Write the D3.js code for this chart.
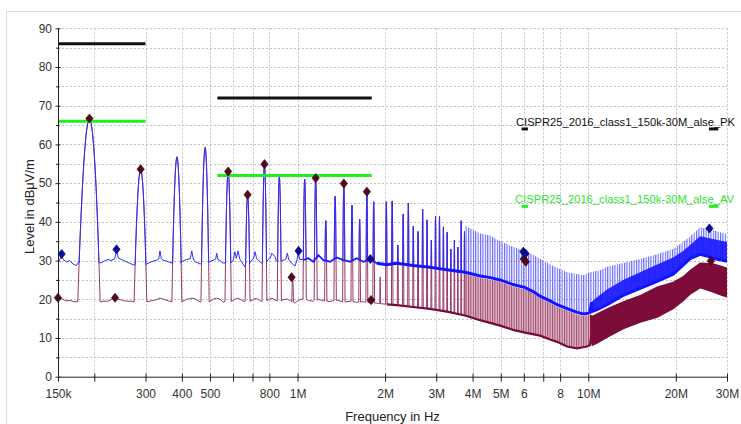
<!DOCTYPE html>
<html><head><meta charset="utf-8">
<script src="https://cdn.jsdelivr.net/npm/d3@7"></script>
<style>html,body{margin:0;padding:0;background:#fff;} svg{display:block;font-family:"Liberation Sans",Arial,sans-serif;}</style>
</head><body><svg id="c" width="741" height="424"></svg>
<script>
// ---------------- DATA ----------------
const xTickMHz = [0.15,0.2,0.3,0.4,0.5,0.6,0.7,0.8,1,2,3,4,5,6,7,8,10,20,30];
const xTickLabels = ["150k","","300","400","500","","","800","1M","2M","3M","4M","5M","6","","8","10M","20M","30M"];
const yMajor = [0,10,20,30,40,50,60,70,80,90];
const yMinor = [5,15,25,35,45,55,65,75,85];

// Limit lines: [startMHz, endMHz, dBµV/m]
const limitPK = [[0.15,0.3,86],[0.53,1.8,72],[5.9,6.2,64],[26,28,64]];
const limitAV = [[0.15,0.3,66],[0.53,1.8,52],[5.9,6.2,44],[26,28,44]];
const limitNames = ["CISPR25_2016_class1_150k-30M_alse_PK","CISPR25_2016_class1_150k-30M_alse_AV"];

// Individually resolved harmonic peaks: [MHz, peak dB]
const harmonics = [
 [0.1924,66.7],[0.2886,53.6],[0.3848,56.8],[0.4810,59.2],[0.5772,53.0],[0.6734,47.0],
 [0.7696,54.9],[0.8658,51.8],[0.9620,25.7],[1.0582,51.0],[1.1544,51.3],[1.2506,40.3],
 [1.3468,46.6],[1.4430,49.9],[1.5392,44.3],[1.6354,40.7],[1.7316,47.8],[1.8278,45.2],
 [1.9240,25.8],[2.0202,45.2],[2.1164,45.4],[2.2126,34.0],[2.3088,42.0],[2.4050,44.8],
 [2.5012,38.9],[2.5974,37.5],[2.6936,43.3],[2.7898,40.5],[2.8860,35.3],[2.9822,41.4],
 [3.0784,41.4],[3.1746,38.7],[3.2708,37.3],[3.3670,33.0],[3.4632,35.3],[3.5594,33.5],
 [3.6556,40.3],[3.7518,37.5]
];

// Peak-detector noise floor: [MHz, dB]
const pkFloor = [
 [0.1500,30.1],[0.1525,30.4],[0.1544,31.3],[0.1565,30.2],[0.1605,29.7],[0.1646,30.0],[0.1690,29.1],[0.1736,28.7],[0.1771,29.7],
 [0.2086,29.3],[0.2140,29.7],[0.2229,30.3],[0.2287,30.0],[0.2350,30.4],[0.2384,32.7],[0.2420,30.6],[0.2476,30.3],[0.2577,29.7],[0.2682,29.1],[0.2754,28.8],
 [0.3021,29.1],[0.3144,29.7],[0.3273,30.1],[0.3330,30.4],[0.3363,32.5],[0.3400,30.5],[0.3455,30.1],[0.3596,29.7],[0.3722,28.9],
 [0.3994,29.7],[0.4157,30.3],[0.4280,30.5],[0.4327,32.5],[0.4380,30.4],[0.4443,29.7],[0.4625,29.1],
 [0.4976,29.7],[0.5134,30.1],[0.5230,30.4],[0.5272,31.9],[0.5320,30.3],[0.5408,30.0],[0.5551,29.3],
 [0.5927,29.5],[0.6020,30.2],[0.6083,32.3],[0.6160,30.6],[0.6244,32.5],[0.6330,30.4],[0.6412,29.7],[0.6583,28.4],
 [0.6864,29.7],[0.7050,30.4],[0.7142,32.3],[0.7230,30.5],[0.7331,30.1],[0.7530,29.3],
 [0.7934,30.3],[0.8060,30.6],[0.8151,31.9],[0.8367,31.0],[0.8450,29.9],[0.8588,29.7],
 [0.8936,30.1],[0.9120,30.4],[0.9224,31.9],[0.9330,30.2],[0.9551,29.3],[0.9803,28.6],[0.9960,30.2],[1.0062,32.4],[1.0160,30.3],
 [1.0470,30.1],[1.0891,30.6],[1.1331,29.7],[1.1790,31.4],[1.2267,30.1],[1.2937,29.7],[1.3640,30.8],[1.4373,30.1],
 [1.5155,29.7],[1.5976,30.6],[1.6840,29.7],[1.7757,30.3],[1.8728,29.3],[2.0265,28.9],[2.1942,29.3],[2.496,28.7],
 [2.856,28.3],[3.267,27.6],[3.768,27.0],[4.245,26.0],[4.594,25.6],[4.972,25.0],[5.512,23.8],[6.063,23.0],[6.458,22.0],
 [6.826,20.8],[7.390,19.6],[7.810,18.6],[8.452,17.6],[8.865,17.0],[9.152,16.6],[9.595,16.2],[9.905,16.3],[10.14,16.6],
 [10.25,19.2],[10.36,16.9],[10.72,17.3],[11.60,18.6],[13.18,21.0],[15.07,22.8],[17.25,24.6],[19.58,26.5],[21.19,28.8],
 [22.40,30.5],[24.24,31.6],[25.62,31.2],[26.87,30.6],[28.41,30.2],[30.0,29.8]
];

// Average-detector noise floor: [MHz, dB]
const avFloor = [
 [0.150,20.4],[0.155,20.1],[0.160,19.6],[0.165,19.7],[0.170,19.4],[0.176,19.3],
 [0.209,19.4],[0.215,19.5],[0.222,19.5],[0.229,19.9],[0.236,20.4],[0.243,20.0],[0.250,19.7],[0.258,19.5],[0.268,19.5],[0.276,19.3],
 [0.302,19.4],[0.315,19.6],[0.327,19.9],[0.336,20.3],[0.346,20.0],[0.360,19.6],[0.372,19.3],
 [0.400,19.4],[0.416,20.0],[0.433,20.3],[0.444,20.1],[0.463,19.3],
 [0.498,19.4],[0.513,20.0],[0.527,20.3],[0.541,20.0],[0.555,19.3],
 [0.593,19.5],[0.608,20.0],[0.624,20.3],[0.641,19.8],[0.658,19.4],
 [0.686,19.5],[0.714,20.2],[0.733,20.0],[0.753,19.4],[0.793,19.9],[0.815,20.3],[0.837,19.8],[0.859,19.5],
 [0.894,19.9],[0.922,20.1],[0.955,19.4],[0.980,19.0],[1.006,19.8],[1.047,20.2],[1.089,19.7],[1.133,19.5],[1.179,20.0],
 [1.227,19.6],[1.294,19.4],[1.364,19.8],[1.437,19.3],[1.516,19.5],[1.598,19.2],[1.684,19.4],[1.776,19.1],[1.873,19.0],
 [2.027,18.7],[2.194,18.5],[2.496,18.0],[2.856,17.5],[3.267,16.8],[3.768,15.8],[4.245,14.6],[4.972,13.2],[5.512,12.1],
 [6.063,11.4],[6.826,10.6],[7.390,9.6],[7.810,9.0],[8.452,7.8],[9.152,7.3],[9.595,7.6],[9.905,7.8],[10.14,8.2],
 [10.25,10.8],[10.36,8.3],[10.72,8.8],[11.60,10.3],[13.18,12.5],[15.07,14.2],[17.25,15.5],[19.58,17.7],[21.19,19.8],
 [22.40,21.5],[24.24,23.1],[26.87,22.0],[28.41,21.3],[30.0,20.7]
];

// Dense harmonic region (unresolved): upper envelopes [MHz, dB]
const pkBandTop = [
 [3.768,39.0],[4.245,37.0],[4.594,36.5],[4.972,35.0],[5.512,33.6],[6.063,32.4],[6.458,31.5],[6.826,30.5],[7.390,29.0],
 [8.452,27.0],[9.595,26.2],[10.14,27.0],[10.98,27.5],[11.60,28.4],[13.18,29.4],[15.07,30.4],[17.25,31.6],[19.58,33.0],
 [21.19,34.8],[22.40,36.2],[24.24,38.6],[26.87,37.8],[30.0,36.8]
];
const pkDenseTop = [
 [10.14,19.0],[10.72,20.5],[11.60,22.5],[13.18,25.0],[15.07,27.0],[17.25,29.0],[19.58,30.8],[21.19,32.5],
 [22.40,34.0],[24.24,36.3],[26.87,35.6],[30.0,34.8]
];
const avBandTop = [
 [3.768,26.5],[4.245,25.5],[4.594,25.1],[4.972,24.5],[5.512,23.3],[6.063,22.5],[6.458,21.5],[6.826,20.3],[7.390,19.1],
 [7.810,18.1],[8.452,17.1],[8.865,16.5],[9.152,16.1],[9.595,15.7],[9.905,15.8],[10.14,16.1],
 [10.36,15.8],[10.72,16.4],[11.60,17.7],[13.18,19.5],[15.07,21.1],[17.25,23.3],[19.58,24.5],[21.19,26.0],
 [22.40,27.6],[24.24,29.5],[26.87,29.3],[28.41,28.8],[30.0,28.2]
];

// Markers: [MHz, dB]
const avMarkers = [[0.150,20.4],[0.1924,66.7],[0.2357,20.4],[0.2886,53.6],[0.5772,53.0],[0.6734,47.0],[0.7696,54.9],
 [0.954,25.7],[1.1544,51.3],[1.443,49.9],[1.7316,47.8],[1.79,19.8],[6.0,30.4],[6.1,29.7],[26.4,29.9]];
const pkMarkers = [[0.1544,31.7],[0.2384,32.9],[1.008,32.5],[1.78,30.4],[5.98,32.3],[6.08,31.8],[26.1,38.3]];

// ---------------- DRAWING ----------------
const svg = d3.select("#c");
const X0 = 58, X1 = 727, Y0 = 376.7, Y1 = 28.3;
const x = d3.scaleLog().domain([0.15, 30]).range([X0, X1]);
const y = d3.scaleLinear().domain([0, 90]).range([Y0, Y1]);
const line = d3.line().x(d => x(d[0])).y(d => y(d[1]));
const K = 163000; // receiver filter curvature, dB per MHz^2 (9 kHz RBW shape)

const defs = svg.append("defs");
defs.append("clipPath").attr("id", "plot").append("rect")
  .attr("x", X0).attr("y", Y1 - 2).attr("width", X1 - X0).attr("height", Y0 - Y1 + 2);
const ph = defs.append("pattern").attr("id", "pkHatch").attr("patternUnits", "userSpaceOnUse").attr("width", 2.4).attr("height", 20);
ph.append("rect").attr("width", 1.1).attr("height", 20).attr("fill", "#3030ff").attr("fill-opacity", 0.75);
const ah = defs.append("pattern").attr("id", "avHatch").attr("patternUnits", "userSpaceOnUse").attr("width", 2.4).attr("height", 20);
ah.append("rect").attr("width", 2.4).attr("height", 20).attr("fill", "#dcb6c6");
ah.append("rect").attr("width", 1.0).attr("height", 20).attr("fill", "#86204c").attr("fill-opacity", 0.7);

// frame
svg.append("rect").attr("x", 6.5).attr("y", 11.5).attr("width", 760).attr("height", 430)
  .attr("fill", "#fff").attr("stroke", "#dcdcdc");

// grid
const grid = svg.append("g").attr("stroke", "#c2c2c2").attr("stroke-dasharray", "2,2").attr("stroke-width", 1);
xTickMHz.filter(d => d > 0.15).forEach(d => {
  const px = Math.round(x(d)) + 0.5;
  grid.append("line").attr("x1", px).attr("x2", px).attr("y1", Y1).attr("y2", Y0);
});
yMajor.concat(yMinor).filter(d => d > 0).forEach(d => {
  const py = Math.round(y(d)) + 0.5;
  grid.append("line").attr("x1", X0).attr("x2", X1).attr("y1", py).attr("y2", py);
});

function floorAt(fl, f) {
  const i = d3.bisector(d => d[0]).left(fl, f);
  if (i <= 0) return fl[0][1];
  if (i >= fl.length) return fl[fl.length - 1][1];
  const a = fl[i - 1], b = fl[i];
  const t = (Math.log(f) - Math.log(a[0])) / (Math.log(b[0]) - Math.log(a[0]));
  return a[1] + t * (b[1] - a[1]);
}
function buildTrace(fl, harm) {
  const spans = harm.map(([f, p]) => {
    const b = floorAt(fl, f);
    if (p <= b) return null;
    return { f, p, b, d: Math.sqrt((p - b) / K) };
  }).filter(Boolean);
  const pts = fl.filter(([f]) => !spans.some(s => Math.abs(f - s.f) < s.d));
  const steps = [-1, -0.9, -0.75, -0.6, -0.45, -0.3, -0.15, 0, 0.15, 0.3, 0.45, 0.6, 0.75, 0.9, 1];
  spans.forEach(s => steps.forEach(t => pts.push([s.f + t * s.d, s.p - K * (t * s.d) * (t * s.d)])));
  pts.sort((a, b) => a[0] - b[0]);
  return pts;
}
function band(top, bottom, f0, f1) {
  const t = top.filter(d => d[0] >= f0 && d[0] <= f1);
  const b = bottom.filter(d => d[0] >= f0 && d[0] <= f1).slice().reverse();
  return line(t.concat(b)) + "Z";
}

const plot = svg.append("g").attr("clip-path", "url(#plot)");

// AV trace (drawn first, under PK)
plot.append("path").attr("d", band(avBandTop, avFloor, 3.768, 10.14)).attr("fill", "url(#avHatch)");
plot.append("path").attr("d", band(avBandTop, avFloor, 10.14, 30)).attr("fill", "#7d0c3a");
plot.append("path").attr("d", line(buildTrace(avFloor, harmonics)))
  .attr("fill", "none").attr("stroke", "#983868").attr("stroke-width", 1);
plot.append("path").attr("d", line(avFloor.filter(d => d[0] >= 2.0)))
  .attr("fill", "none").attr("stroke", "#7a0c38").attr("stroke-width", 2.2);

// PK trace
plot.append("path").attr("d", band(pkBandTop, pkFloor, 3.768, 30)).attr("fill", "url(#pkHatch)");
plot.append("path").attr("d", band(pkDenseTop, pkFloor, 10.14, 30)).attr("fill", "#1a1aff").attr("fill-opacity", 0.92);
plot.append("path").attr("d", line(buildTrace(pkFloor, harmonics)))
  .attr("fill", "none").attr("stroke", "#2d2dff").attr("stroke-width", 1);
plot.append("path").attr("d", line(pkFloor.filter(d => d[0] >= 1.04 && d[0] < 1.9)))
  .attr("fill", "none").attr("stroke", "#2020ff").attr("stroke-width", 1.8);
plot.append("path").attr("d", line(pkFloor.filter(d => d[0] >= 1.85)))
  .attr("fill", "none").attr("stroke", "#1414ff").attr("stroke-width", 3);

// limit lines
function limits(arr, color) {
  arr.forEach(([f0, f1, v]) => {
    svg.append("line").attr("x1", x(f0)).attr("x2", x(f1)).attr("y1", y(v)).attr("y2", y(v))
      .attr("stroke", color).attr("stroke-width", 3);
  });
}
limits(limitPK, "#111111");
limits(limitAV, "#1ef01e");

// markers
const diamond = "M0,-4.6L3.7,0L0,4.6L-3.7,0Z";
svg.append("g").selectAll("path").data(avMarkers).join("path")
  .attr("d", diamond).attr("transform", d => `translate(${x(d[0])},${y(d[1])})`)
  .attr("fill", "#520a18").attr("stroke", "#3a0410").attr("stroke-width", 0.6);
svg.append("g").selectAll("path").data(pkMarkers).join("path")
  .attr("d", diamond).attr("transform", d => `translate(${x(d[0])},${y(d[1])})`)
  .attr("fill", "#0c0c98").attr("stroke", "#06066a").attr("stroke-width", 0.6);

// axes
const xAxis = svg.append("g").attr("transform", `translate(0,${Y0})`)
  .call(d3.axisBottom(x).tickValues(xTickMHz).tickFormat((d, i) => xTickLabels[i]).tickSizeInner(5).tickSizeOuter(0).tickPadding(8));
xAxis.select(".domain").attr("stroke", "#222").attr("d", `M${X0},0.5H${X1}`);
xAxis.selectAll(".tick line").attr("y1", -3).attr("y2", 5).attr("stroke", "#222");
xAxis.selectAll(".tick text").attr("font-size", 12).attr("fill", "#333").attr("font-family", "Liberation Sans, Arial, sans-serif");

const yAxis = svg.append("g").attr("transform", `translate(${X0},0)`)
  .call(d3.axisLeft(y).tickValues(yMajor).tickSizeInner(3).tickSizeOuter(0).tickPadding(3));
yAxis.select(".domain").attr("stroke", "#222").attr("d", `M0.5,${Y0}V${Y1}`);
yAxis.selectAll(".tick line").attr("x1", 2.5).attr("x2", -2.5).attr("stroke", "#222");
yAxis.selectAll(".tick text").attr("font-size", 12).attr("fill", "#333").attr("font-family", "Liberation Sans, Arial, sans-serif");
const yMinorAxis = svg.append("g").attr("transform", `translate(${X0},0)`)
  .call(d3.axisLeft(y).tickValues(yMinor).tickSize(2).tickFormat(""));
yMinorAxis.select(".domain").remove();
yMinorAxis.selectAll(".tick line").attr("x1", 1.5).attr("stroke", "#222");

// axis titles
svg.append("text").attr("transform", "translate(33.5,206.5) rotate(-90)").attr("text-anchor", "middle")
  .attr("font-size", 13).attr("fill", "#222").text("Level in dBμV/m");
svg.append("text").attr("x", 392.5).attr("y", 421).attr("text-anchor", "middle")
  .attr("font-size", 13).attr("fill", "#222").text("Frequency in Hz");

// limit labels
svg.append("text").attr("x", 516).attr("y", 125.5).attr("font-size", 11.2).attr("fill", "#111")
  .attr("textLength", 219).attr("lengthAdjust", "spacingAndGlyphs").text(limitNames[0]);
svg.append("text").attr("x", 515).attr("y", 203).attr("font-size", 11.2).attr("fill", "#2ee62e")
  .attr("textLength", 219).attr("lengthAdjust", "spacingAndGlyphs").text(limitNames[1]);
</script></body></html>
